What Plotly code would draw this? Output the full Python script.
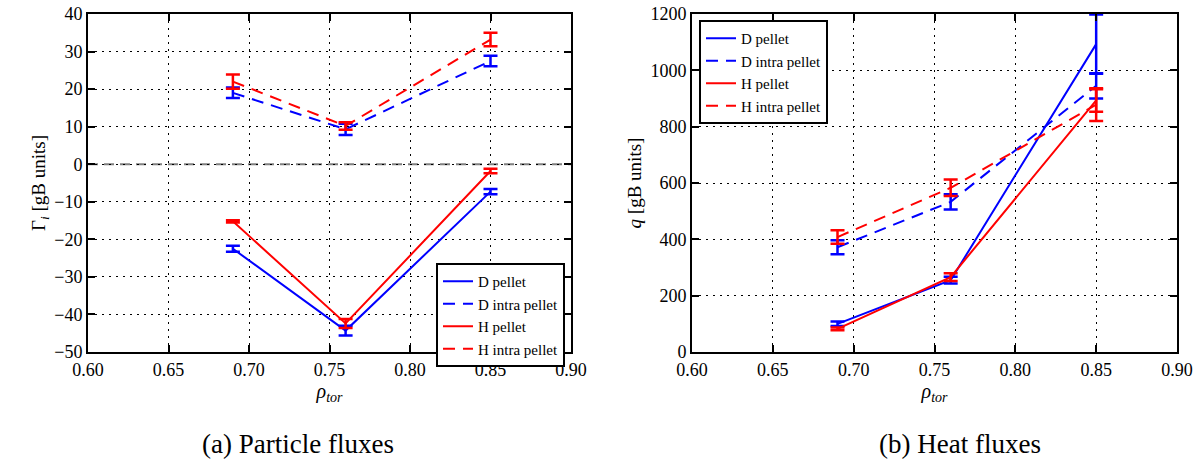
import plotly.graph_objects as go

rho = [0.69, 0.76, 0.85]

# Particle fluxes
gD_pellet = [-22.5, -44.3, -7.3]
gD_pellet_err = [0.8, 1.3, 0.7]
gD_intra = [19.0, 9.3, 27.5]
gD_intra_err = [1.4, 1.5, 1.4]
gH_pellet = [-15.2, -42.4, -1.8]
gH_pellet_err = [0.3, 1.2, 0.6]
gH_intra = [22.0, 10.2, 33.2]
gH_intra_err = [1.9, 1.0, 1.8]

# Heat fluxes
qD_pellet = [100, 255, 1093]
qD_pellet_err = [8, 12, 105]
qD_intra = [372, 533, 945]
qD_intra_err = [25, 27, 45]
qH_pellet = [82, 266, 893]
qH_pellet_err = [5, 14, 40]
qH_intra = [408, 583, 878]
qH_intra_err = [24, 29, 58]

labels = ["D pellet", "D intra pellet", "H pellet", "H intra pellet"]
colors = ["#0000ff", "#0000ff", "#ff0000", "#ff0000"]
dashes = ["solid", "12px,8px", "solid", "12px,8px"]

xticks = [0.60, 0.65, 0.70, 0.75, 0.80, 0.85, 0.90]
yticks_left = [-50, -40, -30, -20, -10, 0, 10, 20, 30, 40]
yticks_right = [0, 200, 400, 600, 800, 1000, 1200]

FONT = "Liberation Serif"
W, H = 1204, 464

def px(x):
    return x / W

def py(y):
    return (H - y) / H

fig = go.Figure()

def add_series(vals, errs, xa, ya, legend):
    for i in range(4):
        fig.add_trace(go.Scatter(
            x=rho, y=vals[i], mode="lines", name=labels[i],
            line=dict(color=colors[i], width=2, dash=dashes[i]),
            error_y=dict(type="data", array=errs[i], color=colors[i],
                         thickness=2.5, width=7),
            xaxis=xa, yaxis=ya, legend=legend, cliponaxis=True))

add_series([gD_pellet, gD_intra, gH_pellet, gH_intra],
           [gD_pellet_err, gD_intra_err, gH_pellet_err, gH_intra_err], "x", "y", "legend")
add_series([qD_pellet, qD_intra, qH_pellet, qH_intra],
           [qD_pellet_err, qD_intra_err, qH_pellet_err, qH_intra_err], "x2", "y2", "legend2")

# zero reference line (left panel)
fig.add_shape(type="line", xref="x", yref="y", x0=0.60, x1=0.90, y0=0, y1=0,
              line=dict(color="#808080", width=2, dash="10px,6px"), layer="below")

axis_common = dict(
    showline=True, linecolor="black", linewidth=2, mirror="ticks",
    ticks="inside", ticklen=7, tickwidth=2, tickcolor="black",
    showgrid=True, gridcolor="black", gridwidth=1, griddash="2px,5px",
    zeroline=False, tickfont=dict(family=FONT, size=18, color="black"),
    automargin=False,
)
xd1 = [px(88), px(571)]
xd2 = [px(692), px(1177)]
yd = [py(352), py(14)]

fig.update_layout(
    width=W, height=H, margin=dict(l=0, r=0, t=0, b=0, autoexpand=False),
    paper_bgcolor="white", plot_bgcolor="white",
    font=dict(family=FONT, color="black"),
    xaxis=dict(domain=xd1, range=[0.60, 0.90], tickvals=xticks, tickformat=".2f",
               title=dict(text="<i>ρ<sub>tor</sub></i>", font=dict(size=20), standoff=2),
               anchor="y", **axis_common),
    yaxis=dict(domain=yd, range=[-50, 40], tickvals=yticks_left,
               title=dict(text="Γ<sub><i>i</i></sub> [gB units]", font=dict(size=19), standoff=4),
               anchor="x", **axis_common),
    xaxis2=dict(domain=xd2, range=[0.60, 0.90], tickvals=xticks, tickformat=".2f",
                title=dict(text="<i>ρ<sub>tor</sub></i>", font=dict(size=20), standoff=2),
                anchor="y2", **axis_common),
    yaxis2=dict(domain=yd, range=[0, 1200], tickvals=yticks_right,
                title=dict(text="<i>q</i> [gB units]", font=dict(size=19), standoff=4),
                anchor="x2", **axis_common),
    legend=dict(x=px(565), xanchor="right", y=py(263), yanchor="top",
                bgcolor="white", bordercolor="black", borderwidth=2,
                font=dict(family=FONT, size=15), tracegroupgap=0, itemwidth=30),
    legend2=dict(x=px(699), xanchor="left", y=py(20), yanchor="top",
                 bgcolor="white", bordercolor="black", borderwidth=2,
                 font=dict(family=FONT, size=15), tracegroupgap=0, itemwidth=30),
    showlegend=True,
)

fig.add_annotation(text="(a) Particle fluxes", x=px(298), y=py(444),
                   xref="paper", yref="paper", showarrow=False,
                   xanchor="center", yanchor="middle",
                   font=dict(family=FONT, size=27))
fig.add_annotation(text="(b) Heat fluxes", x=px(960), y=py(444),
                   xref="paper", yref="paper", showarrow=False,
                   xanchor="center", yanchor="middle",
                   font=dict(family=FONT, size=27))

fig.write_html("out.html", config={"displayModeBar": False},
               post_script="document.body.style.margin='0';document.body.style.overflow='hidden';")
